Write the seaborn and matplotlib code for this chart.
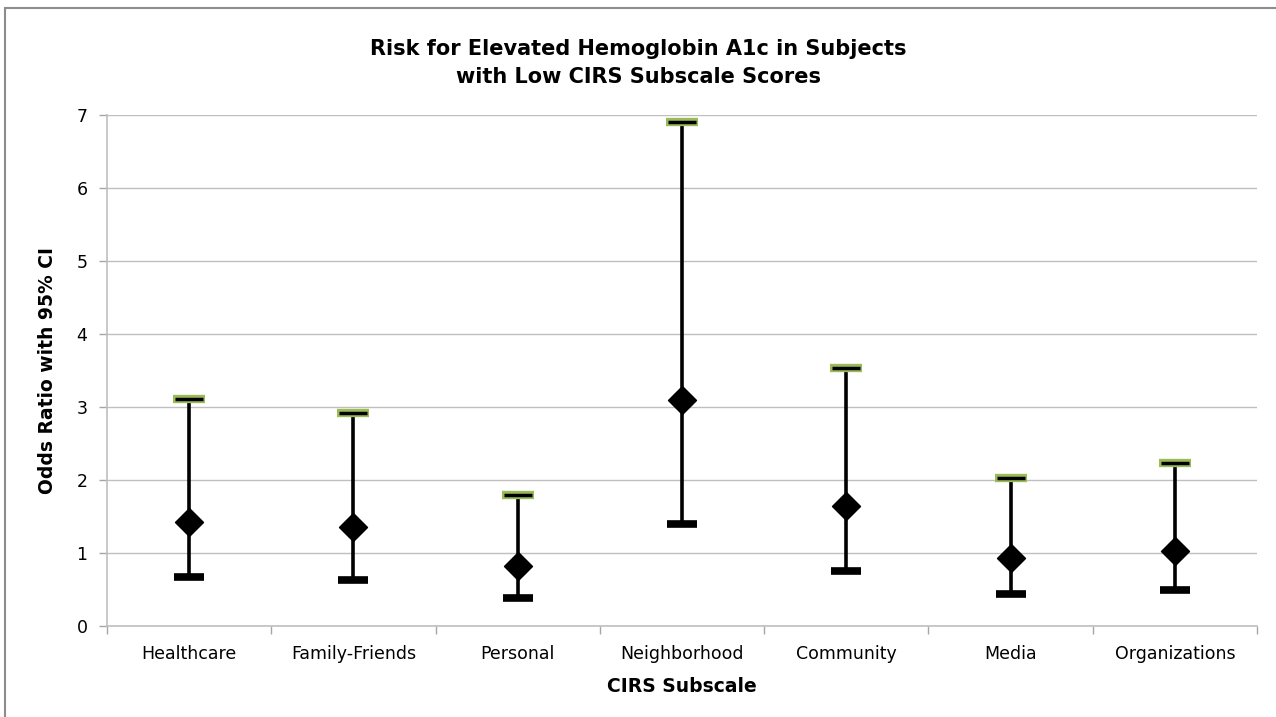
import matplotlib
matplotlib.use("Agg")
import matplotlib.pyplot as plt
import seaborn as sns
import pandas as pd
from matplotlib.patches import Rectangle

categories = ["Healthcare", "Family-Friends", "Personal", "Neighborhood", "Community", "Media", "Organizations"]
odds_ratio = [1.42, 1.36, 0.82, 3.10, 1.64, 0.93, 1.03]
ci_lower = [0.67, 0.63, 0.38, 1.40, 0.75, 0.44, 0.49]
ci_upper = [3.11, 2.92, 1.79, 6.90, 3.53, 2.03, 2.23]

sns.set_theme(style="white")
plt.rcParams['font.family'] = ['DejaVu Sans']
plt.rcParams['text.color'] = 'black'
plt.rcParams['axes.labelcolor'] = 'black'
plt.rcParams['xtick.color'] = 'black'
plt.rcParams['ytick.color'] = 'black'

df = pd.DataFrame({"cat": categories, "or": odds_ratio, "lo": ci_lower, "hi": ci_upper})
df["x"] = range(len(df))

fig = plt.figure(figsize=(12.76, 7.17), dpi=100)
ax = fig.add_axes([107/1276, 1-626/717, 1150/1276, (626-115)/717])

# figure border
fig.patches.append(Rectangle((5/1276, -0.05), 1.2, 1-8/717+0.05, transform=fig.transFigure,
                             fill=False, edgecolor="#8c8c8c", linewidth=1.5, zorder=0))

ax.set_ylim(0, 7)
ax.set_xlim(-0.5, len(df) - 0.5)
ax.set_yticks(range(0, 8))
ax.yaxis.grid(True, color="#bfbfbf", linewidth=1.0)
ax.set_axisbelow(True)

ax.vlines(df["x"], df["lo"], df["hi"], color="black", linewidth=2.6, zorder=3)
# lower caps
ax.plot(df["x"], df["lo"], linestyle="none", marker="_", markersize=21, mew=5.5, color="black", zorder=4)
# upper caps (green outline + black)
ax.plot(df["x"], df["hi"], linestyle="none", marker="_", markersize=23, mew=6, color="#9bbb59", zorder=4)
ax.plot(df["x"], df["hi"], linestyle="none", marker="_", markersize=20, mew=2.5, color="black", zorder=5)

sns.scatterplot(data=df, x="x", y="or", marker="D", s=200, color="black", edgecolor="black",
                ax=ax, zorder=6, legend=False)

ax.set_xticks(df["x"])
ax.set_xticklabels(categories, fontsize=12.5)
ax.set_xticks([i - 0.5 for i in range(len(df) + 1)], minor=True)
ax.tick_params(axis="x", which="major", length=0, pad=14, colors="black")
ax.tick_params(axis="x", which="minor", length=6, color="#a6a6a6", width=1, direction="out")
ax.tick_params(axis="y", length=6, color="#a6a6a6", width=1, direction="out", labelsize=12.5, pad=8,
               labelcolor="black")
ax.tick_params(axis="y", which="major", left=True)
ax.tick_params(axis="x", which="minor", bottom=True)

for s in ["top", "right"]:
    ax.spines[s].set_visible(False)
for s in ["left", "bottom"]:
    ax.spines[s].set_color("#bfbfbf")
    ax.spines[s].set_linewidth(1.2)

ax.set_xlabel("CIRS Subscale", fontsize=13.5, fontweight="bold", labelpad=10, color="black")
ax.set_ylabel("Odds Ratio with 95% CI", fontsize=13.5, fontweight="bold", labelpad=14, color="black")
fig.text(0.5, 1-63/717, "Risk for Elevated Hemoglobin A1c in Subjects\nwith Low CIRS Subscale Scores",
         ha="center", va="center", fontsize=15, fontweight="bold", linespacing=1.5, color="black")

fig.savefig("out.png", dpi=100)
